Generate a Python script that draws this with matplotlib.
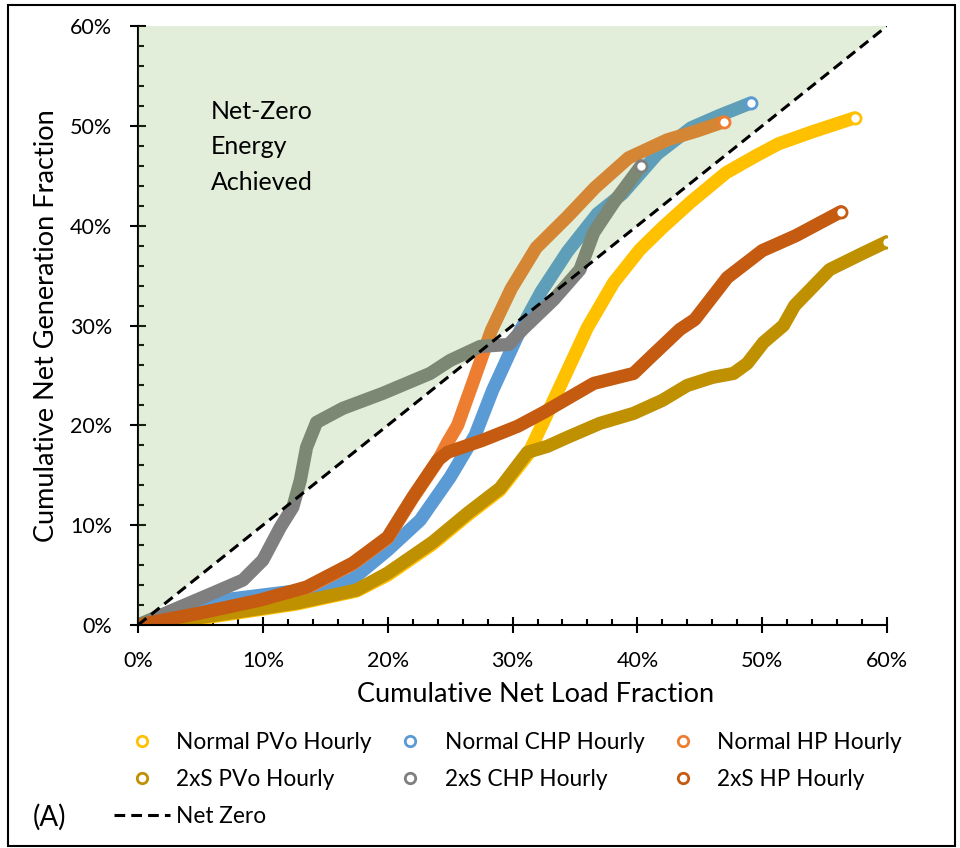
import matplotlib.pyplot as plt
from matplotlib.patches import Rectangle, Polygon
from matplotlib.lines import Line2D
from matplotlib.ticker import MultipleLocator, PercentFormatter

plt.rcParams['font.family'] = ['Lato', 'DejaVu Sans']

# cumulative net load fraction (x) vs cumulative net generation fraction (y), in %
pvo_x = [0, 2, 7.4, 12.7, 17.5, 20, 23.6, 26.4, 29, 31.2, 31.7, 32.8, 34.4, 36, 38.1, 40.2, 42, 44.3, 47.1, 49.5, 51.3, 54, 57.4]
pvo_y = [0, 0.1, 1.1, 2.1, 3.4, 5.0, 8.1, 11.0, 13.5, 17.0, 18.3, 21.2, 25.5, 29.8, 34.3, 37.6, 39.8, 42.4, 45.3, 47, 48.2, 49.4, 50.8]

chp_x = [0, 3, 7.4, 11.9, 14.5, 17.2, 20, 22.6, 25, 27, 28.4, 30.6, 32.3, 34.4, 36.8, 38.8, 41.6, 44.3, 46.5, 49.1]
chp_y = [0, 1.3, 2.6, 3.3, 3.6, 4.6, 7.5, 10.5, 14.8, 19, 23.5, 29.5, 33.4, 37.4, 41.2, 43.2, 47.2, 49.8, 51.0, 52.3]

hp_x = [0, 5, 9.8, 13.5, 17.2, 20, 22, 24, 24.8, 25.6, 26.8, 28.3, 29.9, 31.9, 34.4, 36.6, 39.3, 42.4, 44.8, 46.9]
hp_y = [0, 1.1, 2.4, 3.7, 6.1, 8.7, 12.7, 16.4, 18.3, 20, 24.2, 29.5, 33.7, 37.8, 40.9, 43.8, 46.8, 48.6, 49.5, 50.4]

pvo2_x = [0, 2, 7.4, 12.7, 17.5, 20, 23.6, 26.4, 29, 31.2, 32.8, 34.4, 37, 39.7, 42, 44, 46, 47.7, 48.8, 50.1, 51.7, 52.6, 55.4, 58, 60]
pvo2_y = [0, 0.2, 1.2, 2.2, 3.5, 5.2, 8.3, 11.2, 13.7, 17.3, 17.9, 18.8, 20.2, 21.2, 22.5, 24, 24.8, 25.2, 26.2, 28.3, 30, 32, 35.6, 37.2, 38.4]

chp2_x = [0, 2.8, 6, 8.4, 10, 11.4, 12.4, 13, 13.5, 14.3, 16.4, 19.6, 23.4, 25, 27.4, 29.7, 30.8, 33.3, 35.4, 36.5, 38.1, 40.3]
chp2_y = [0, 1.5, 3.2, 4.5, 6.5, 9.8, 11.8, 14.5, 17.8, 20.3, 21.7, 23.2, 25.2, 26.5, 27.9, 28.1, 29.6, 32.6, 35.6, 39.3, 42.3, 46.0]

hp2_x = [0, 5, 9.8, 13.5, 17.2, 20, 22, 24, 24.8, 27.6, 30.4, 32.5, 36.5, 39.7, 41.2, 43.4, 44.6, 47.2, 50, 52.7, 56.3]
hp2_y = [0, 1.2, 2.5, 3.8, 6.2, 8.8, 12.8, 16.5, 17.3, 18.5, 19.9, 21.3, 24.2, 25.2, 27, 29.6, 30.6, 34.8, 37.5, 39, 41.4]

series = [
    ('Normal PVo Hourly', pvo_x, pvo_y, '#FFC000'),
    ('Normal CHP Hourly', chp_x, chp_y, '#5B9BD5'),
    ('Normal HP Hourly', hp_x, hp_y, '#ED7D31'),
    ('2xS PVo Hourly', pvo2_x, pvo2_y, '#BF9000'),
    ('2xS CHP Hourly', chp2_x, chp2_y, '#7F7F7F'),
    ('2xS HP Hourly', hp2_x, hp2_y, '#C55A11'),
]

fig = plt.figure(figsize=(9.6, 8.48), dpi=100)
ax = fig.add_axes([0.1438, 0.263, 0.7802, 0.7063])

handles = {}
for name, xs, ys, col in series:
    ax.plot(xs, ys, color=col, lw=9.5, solid_capstyle='round', solid_joinstyle='round', zorder=2)
    ax.plot(xs[-1], ys[-1], 'o', ms=8, mfc='white', mec=col, mew=2, zorder=5)
    handles[name] = Line2D([], [], ls='none', marker='o', ms=7.5, mfc='white', mec=col, mew=2)

# shaded region where generation exceeds load
ax.add_patch(Polygon([[0, 0], [0, 60], [60, 60]], closed=True, fc='#70AD47', alpha=0.2, ec='none', zorder=3))
ax.plot([0, 60], [0, 60], color='black', ls=(0, (3.5, 2)), lw=2.2, zorder=4)
handles['Net Zero'] = Line2D([], [], color='black', ls=(0, (3.5, 2)), lw=2.2)

ax.text(5.8, 52.6, 'Net-Zero\nEnergy\nAchieved', fontsize=18, va='top', ha='left', linespacing=1.66, zorder=6)

ax.set_xlim(0, 60)
ax.set_ylim(0, 60)
ax.xaxis.set_major_locator(MultipleLocator(10))
ax.yaxis.set_major_locator(MultipleLocator(10))
ax.xaxis.set_minor_locator(MultipleLocator(2))
ax.yaxis.set_minor_locator(MultipleLocator(2))
ax.xaxis.set_major_formatter(PercentFormatter(decimals=0))
ax.yaxis.set_major_formatter(PercentFormatter(decimals=0))
ax.tick_params(which='major', direction='inout', length=11, width=1.5, labelsize=15.5, colors='black')
ax.tick_params(axis='x', which='major', pad=13)
ax.tick_params(axis='y', which='major', pad=13)
ax.tick_params(which='minor', direction='in', length=4.5, width=1.5)
for s in ['top', 'right']:
    ax.spines[s].set_visible(False)
for s in ['left', 'bottom']:
    ax.spines[s].set_linewidth(1.5)
ax.set_xlabel('Cumulative Net Load Fraction', fontsize=19.5)
ax.set_ylabel('Cumulative Net Generation Fraction', fontsize=19.5)
ax.xaxis.set_label_coords(0.531, -0.095)
ax.yaxis.set_label_coords(-0.106, 0.5)

order = ['Normal PVo Hourly', '2xS PVo Hourly', 'Net Zero',
         'Normal CHP Hourly', '2xS CHP Hourly',
         'Normal HP Hourly', '2xS HP Hourly']
fig.legend([handles[k] for k in order], order, ncol=3, frameon=False, fontsize=16.3,
           loc='upper left', bbox_to_anchor=(0.109, 0.1477), handlelength=2.5,
           handletextpad=0.27, columnspacing=0.45, labelspacing=0.72, borderaxespad=0)

fig.text(0.034, 0.0366, '(A)', fontsize=20, va='center', ha='left')
fig.add_artist(Rectangle((0.0083, 0.0024), 0.9865, 0.9917, transform=fig.transFigure,
                         fill=False, ec='black', lw=1.5))

fig.savefig('out.png', dpi=100)
